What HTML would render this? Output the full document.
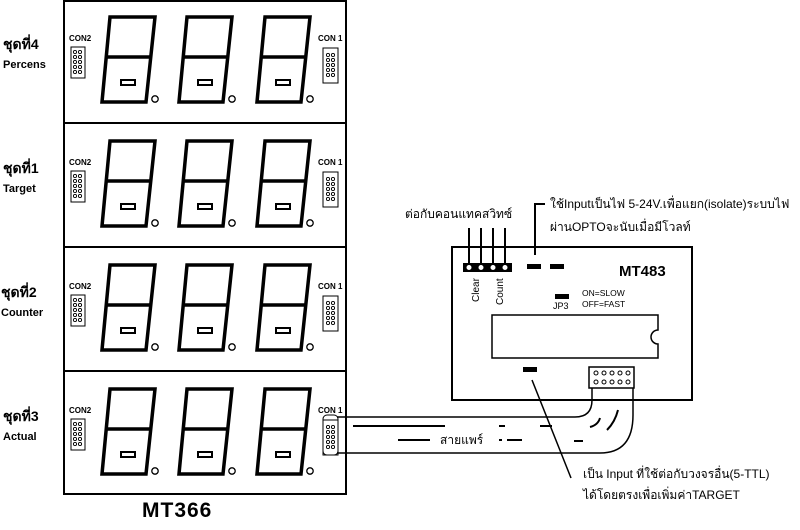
<!DOCTYPE html>
<html><head><meta charset="utf-8"><style>
html,body{margin:0;padding:0;background:#fff;width:800px;height:530px;overflow:hidden}
svg{display:block}
text{font-family:"Liberation Sans","Noto Sans CJK SC",sans-serif;fill:#000}
</style></head><body>
<svg width="800" height="530" viewBox="0 0 800 530">
<defs>
<g id="dg">
<polygon points="110,17 155,17 146,102 102,102" fill="none" stroke="#000" stroke-width="3.5"/>
<line x1="106" y1="57" x2="151" y2="57" stroke="#000" stroke-width="3.5"/>
<rect x="121" y="80" width="14" height="5" fill="none" stroke="#000" stroke-width="2"/>
<circle cx="155" cy="99" r="3.2" fill="none" stroke="#000" stroke-width="1.3"/>
</g>
<g id="pins">
<g fill="none" stroke="#000" stroke-width="0.9">
<circle cx="0" cy="0" r="1.6"/><circle cx="5" cy="0" r="1.6"/>
<circle cx="0" cy="5" r="1.6"/><circle cx="5" cy="5" r="1.6"/>
<circle cx="0" cy="10" r="1.6"/><circle cx="5" cy="10" r="1.6"/>
<circle cx="0" cy="15" r="1.6"/><circle cx="5" cy="15" r="1.6"/>
<circle cx="0" cy="20" r="1.6"/><circle cx="5" cy="20" r="1.6"/>
</g>
</g>
<g id="row">
<use href="#dg"/><use href="#dg" x="77"/><use href="#dg" x="155"/>
<rect x="71" y="47" width="14" height="31" fill="none" stroke="#000" stroke-width="1"/>
<use href="#pins" x="75" y="52"/>
<rect x="323" y="48" width="15" height="35" fill="none" stroke="#000" stroke-width="1"/>
<use href="#pins" x="328" y="55"/>
<text x="69" y="41" font-size="8" font-weight="bold">CON2</text>
<text x="318" y="41" font-size="8" font-weight="bold">CON 1</text>
</g>
</defs>
<rect x="64" y="1" width="282" height="493" fill="none" stroke="#000" stroke-width="2"/>
<line x1="64" y1="123" x2="346" y2="123" stroke="#000" stroke-width="2"/>
<line x1="64" y1="247" x2="346" y2="247" stroke="#000" stroke-width="2"/>
<line x1="64" y1="371" x2="346" y2="371" stroke="#000" stroke-width="2"/>
<use href="#row"/>
<use href="#row" y="124"/>
<use href="#row" y="248"/>
<use href="#row" y="372"/>
<g font-weight="bold">
<text x="3" y="49" font-size="14">ชุดที่4</text><text x="3" y="68" font-size="11">Percens</text>
<text x="3" y="173" font-size="14">ชุดที่1</text><text x="3" y="192" font-size="11">Target</text>
<text x="1" y="297" font-size="14">ชุดที่2</text><text x="1" y="316" font-size="11">Counter</text>
<text x="3" y="421" font-size="14">ชุดที่3</text><text x="3" y="440" font-size="11">Actual</text>
</g>
<text x="142" y="517" font-size="21" font-weight="bold" letter-spacing="1">MT366</text>

<rect x="452" y="247" width="240" height="153" fill="none" stroke="#000" stroke-width="2"/>
<rect x="463" y="263" width="49" height="9" fill="#000"/>
<g fill="#fff" stroke="#000" stroke-width="1"><circle cx="469" cy="267.5" r="3"/><circle cx="481" cy="267.5" r="3"/><circle cx="493" cy="267.5" r="3"/><circle cx="505" cy="267.5" r="3"/></g>
<g stroke="#000" stroke-width="2"><line x1="469" y1="228" x2="469" y2="264"/><line x1="481" y1="228" x2="481" y2="264"/><line x1="493" y1="228" x2="493" y2="264"/><line x1="505" y1="228" x2="505" y2="264"/></g>
<text x="405" y="218" font-size="12">ต่อกับคอนแทคสวิทซ์</text>
<text transform="translate(479,302) rotate(-90)" font-size="10">Clear</text>
<text transform="translate(503,305) rotate(-90)" font-size="10">Count</text>
<rect x="527" y="264" width="14" height="5" fill="#000"/><rect x="550" y="264" width="14" height="5" fill="#000"/>
<polyline points="535,255 535,204 545,204" fill="none" stroke="#000" stroke-width="2"/>
<text x="550" y="208" font-size="12">ใช้Inputเป็นไฟ 5-24V.เพื่อแยก(isolate)ระบบไฟ</text>
<text x="550" y="231" font-size="12">ผ่านOPTOจะนับเมื่อมีโวลท์</text>
<text x="619" y="276" font-size="15" font-weight="bold">MT483</text>
<rect x="555" y="294" width="14" height="5" fill="#000"/>
<text x="553" y="309" font-size="9">JP3</text>
<text x="582" y="296" font-size="8.5">ON=SLOW</text>
<text x="582" y="307" font-size="8.5">OFF=FAST</text>
<path d="M492,315 H658 V330 A7,7 0 0 0 658,344 V358 H492 Z" fill="none" stroke="#000" stroke-width="1.5"/>
<rect x="523" y="367" width="14" height="5" fill="#000"/>
<rect x="589" y="367" width="45" height="21" fill="none" stroke="#000" stroke-width="1.5"/>
<g fill="none" stroke="#000" stroke-width="1"><circle cx="596" cy="373" r="2"/><circle cx="604" cy="373" r="2"/><circle cx="612" cy="373" r="2"/><circle cx="620" cy="373" r="2"/><circle cx="628" cy="373" r="2"/><circle cx="596" cy="382" r="2"/><circle cx="604" cy="382" r="2"/><circle cx="612" cy="382" r="2"/><circle cx="620" cy="382" r="2"/><circle cx="628" cy="382" r="2"/></g>
<path d="M337,417 H575 Q592,417 592,400 V388" fill="none" stroke="#000" stroke-width="1.5"/>
<path d="M337,453 H600 Q633,453 633,415 V388" fill="none" stroke="#000" stroke-width="1.5"/>
<rect x="323" y="415" width="15" height="40" rx="4" fill="none" stroke="#000" stroke-width="1"/>
<g stroke="#000" stroke-width="2">
<line x1="353" y1="426" x2="445" y2="426"/><line x1="499" y1="426" x2="505" y2="426"/><line x1="540" y1="426" x2="552" y2="426"/>
<line x1="398" y1="440" x2="430" y2="440"/><line x1="499" y1="440" x2="502" y2="440"/><line x1="507" y1="440" x2="522" y2="440"/><line x1="574" y1="441" x2="583" y2="441"/>
<path d="M590,427 Q598,425 600,418" fill="none"/><path d="M607,430 Q615,422 618,410" fill="none"/>
</g>
<text x="440" y="444" font-size="12">สายแพร์</text>
<line x1="532" y1="380" x2="571" y2="478" stroke="#000" stroke-width="1.5"/>
<text x="583" y="478" font-size="12">เป็น Input ที่ใช้ต่อกับวงจรอื่น(5-TTL)</text>
<text x="583" y="499" font-size="12">ได้โดยตรงเพื่อเพิ่มค่าTARGET</text>
</svg>
</body></html>
